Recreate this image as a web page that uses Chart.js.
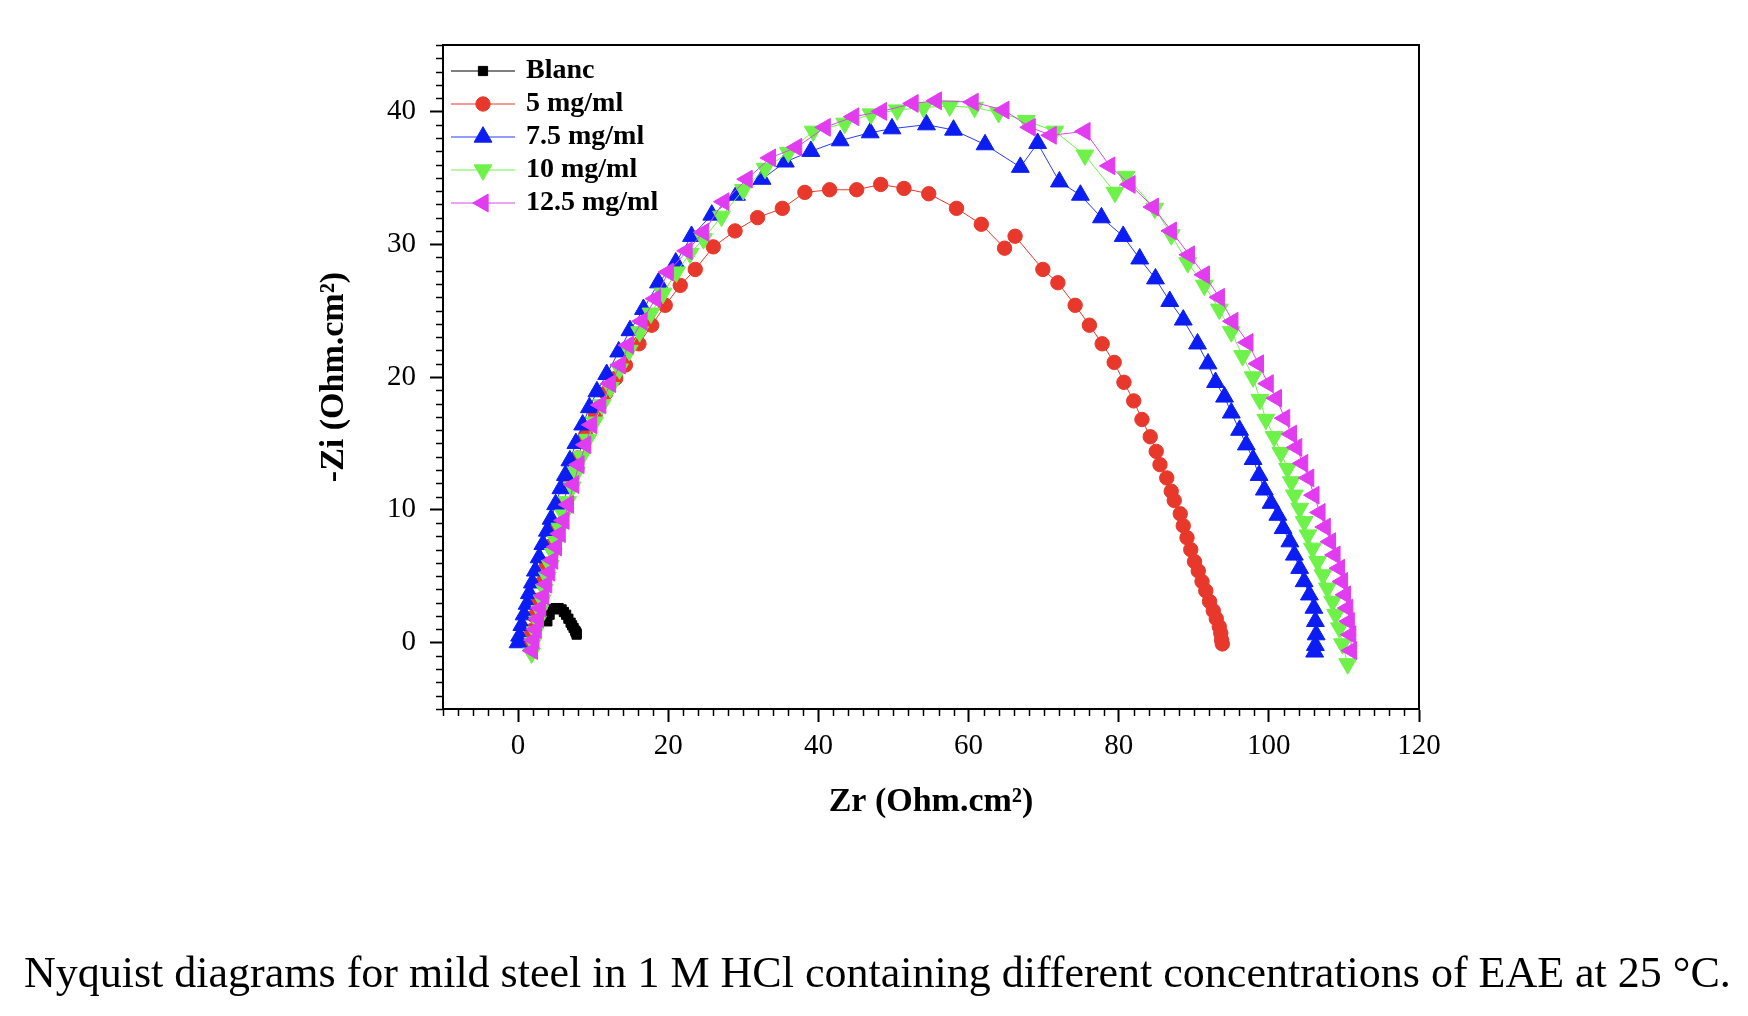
<!DOCTYPE html>
<html>
<head>
<meta charset="utf-8">
<script src="https://cdn.jsdelivr.net/npm/chart.js@4.4.1/dist/chart.umd.min.js"></script>
<style>
  html, body { margin: 0; padding: 0; background: #fff; }
  #wrap { position: relative; width: 1748px; height: 1016px; }
  #caption {
    position: absolute; left: 24px; top: 947px;
    font: 44px 'Liberation Serif', 'Times New Roman', serif;
    white-space: nowrap; color: #000;
  }
</style>
</head>
<body>
<div id="wrap">
  <canvas id="nyquist" width="1748" height="1016"></canvas>
  <div id="caption">Nyquist diagrams for mild steel in 1 M HCl containing different concentrations of EAE at 25 °C.</div>
</div>
<script>
const seriesLabels = ['Blanc', '5 mg/ml', '7.5 mg/ml', '10 mg/ml', '12.5 mg/ml'];
const xTicks = [0, 20, 40, 60, 80, 100, 120];
const yTicks = [0, 10, 20, 30, 40];

// [Zr, -Zi] pairs
const blanc = [[3.9,1.6],[4.2,2.1],[4.6,2.5],[5.0,2.6],[5.4,2.6],[5.8,2.5],[6.1,2.3],[6.4,2.1],[6.7,1.8],
  [7.0,1.5],[7.2,1.3],[7.4,1.1],[7.6,0.9],[7.7,0.8],[7.8,0.7],[7.8,0.6]];

const c5 = [[1.5,0.0],[1.8,0.9],[2.2,2.0],[2.7,3.2],[3.2,4.5],[3.8,5.9],[4.4,7.3],[5.1,8.8],[5.9,10.4],
  [6.9,12.1],[7.9,13.9],[9.0,15.6],[10.3,17.2],[11.7,18.8],[13.0,19.9],[14.3,20.9],[16.1,22.5],[17.8,23.9],
  [19.6,25.4],[21.6,26.9],[23.6,28.1],[26.0,29.8],[28.9,31.0],[31.9,32.0],[35.2,32.7],[38.2,33.9],[41.5,34.1],
  [45.1,34.1],[48.3,34.5],[51.4,34.2],[54.7,33.8],[58.4,32.7],[61.7,31.5],[64.8,29.7],[66.2,30.6],[69.9,28.1],
  [71.9,27.1],[74.2,25.4],[76.1,23.9],[77.8,22.5],[79.4,21.1],[80.7,19.6],[82.0,18.2],[83.1,16.8],[84.2,15.5],
  [85.0,14.4],[85.5,13.4],[86.4,12.4],[87.0,11.4],[87.4,10.7],[88.2,9.7],[88.6,8.8],[89.1,7.9],[89.6,7.0],
  [90.1,6.1],[90.6,5.4],[91.1,4.6],[91.6,3.9],[92.1,3.1],[92.6,2.4],[93.0,1.8],[93.4,1.2],[93.6,0.7],
  [93.7,0.2],[93.8,-0.1]];

const c75 = [[0.0,0.0],[0.2,0.5],[0.5,1.3],[0.8,2.1],[1.2,2.9],[1.5,3.7],[1.9,4.5],[2.3,5.4],[2.8,6.4],
  [3.3,7.4],[3.9,8.4],[4.4,9.3],[5.0,10.4],[5.7,11.6],[6.3,12.6],[6.9,13.7],[7.7,15.0],[8.6,16.4],[9.5,17.7],
  [10.5,18.9],[11.8,20.2],[13.4,21.9],[14.9,23.5],[16.7,25.1],[18.7,27.1],[21.0,28.6],[23.1,30.6],[25.8,32.2],
  [29.1,33.7],[32.5,34.9],[35.6,36.2],[39.0,37.0],[42.9,37.8],[46.9,38.4],[49.8,38.7],[54.4,39.0],[58.0,38.6],
  [62.2,37.5],[66.9,35.8],[69.2,37.6],[72.1,34.7],[74.9,33.7],[77.7,32.0],[80.6,30.6],[82.8,28.9],[84.9,27.4],
  [86.8,25.7],[88.6,24.3],[90.5,22.5],[91.9,21.0],[92.9,19.6],[94.1,18.5],[95.0,17.3],[96.1,16.0],[97.0,14.9],
  [97.9,13.8],[98.7,12.6],[99.4,11.5],[100.3,10.5],[101.2,9.6],[101.9,8.6],[102.8,7.6],[103.4,6.6],[104.1,5.6],
  [104.7,4.6],[105.4,3.6],[106.0,2.6],[106.2,1.6],[106.3,0.6],[106.2,-0.2],[106.1,-0.7]];

const c10 = [[1.8,-0.8],[2.0,0.0],[2.3,0.8],[2.6,1.6],[2.9,2.4],[3.2,3.2],[3.5,4.0],[3.9,4.9],[4.3,5.8],
  [4.7,6.7],[5.1,7.6],[5.6,8.6],[6.1,9.6],[6.6,10.6],[7.2,11.7],[7.8,12.8],[8.5,14.0],[9.3,15.3],[10.2,16.6],
  [11.2,17.9],[12.3,19.2],[13.5,20.6],[14.8,22.0],[16.2,23.4],[17.7,24.8],[19.3,26.3],[21.1,27.9],[22.9,29.3],
  [24.7,30.4],[27.1,32.1],[30.0,34.1],[32.9,35.7],[36.0,36.9],[39.3,38.5],[43.5,39.1],[47.0,39.8],[50.5,40.1],
  [54.0,40.3],[57.5,40.4],[60.8,40.3],[64.0,39.9],[67.7,39.3],[71.5,38.5],[75.5,36.7],[79.5,33.9],[81.0,35.1],
  [84.8,32.7],[87.0,30.7],[89.2,28.6],[91.4,26.9],[93.4,25.1],[95.0,23.4],[96.5,21.6],[97.9,20.0],[98.8,18.3],
  [99.6,16.8],[100.7,15.5],[101.6,14.3],[102.5,13.1],[103.0,12.1],[103.4,11.1],[104.1,10.1],[104.7,9.1],
  [105.2,8.1],[105.8,7.1],[106.5,6.1],[107.2,5.1],[107.8,4.1],[108.5,3.1],[108.9,2.1],[109.4,1.1],[109.8,-0.1],
  [110.5,-1.6]];

const c125 = [[1.9,-0.6],[2.1,0.2],[2.4,1.0],[2.7,1.8],[3.0,2.6],[3.4,3.5],[3.8,4.4],[4.2,5.3],[4.6,6.2],
  [5.1,7.2],[5.6,8.2],[6.1,9.2],[6.7,10.4],[7.4,11.9],[8.1,13.4],[9.0,14.9],[9.8,16.4],[11.0,17.9],[12.3,19.5],
  [13.6,20.9],[14.7,22.4],[16.5,24.2],[18.3,25.9],[20.0,27.9],[22.5,29.5],[24.7,30.9],[27.4,33.2],[30.5,34.9],
  [33.6,36.5],[37.1,37.3],[40.9,38.8],[44.7,39.6],[48.4,40.0],[52.6,40.6],[55.7,40.8],[60.6,40.7],[64.7,40.1],
  [68.2,38.8],[71.0,38.2],[75.5,38.5],[78.8,35.9],[81.5,34.5],[84.6,32.8],[87.0,31.0],[89.4,29.2],[91.4,27.7],
  [93.4,26.0],[95.2,24.2],[97.2,22.6],[98.6,21.0],[99.9,19.5],[101.0,18.4],[102.1,16.9],[103.0,15.7],
  [103.7,14.7],[104.5,13.5],[105.3,12.4],[106.0,11.1],[106.8,9.8],[107.5,8.7],[108.2,7.6],[108.8,6.6],
  [109.4,5.6],[109.8,4.6],[110.2,3.6],[110.5,2.6],[110.7,1.6],[110.9,0.6],[111.0,-0.6]];

const seriesData = [blanc, c5, c75, c10, c125];

const serif = "'Liberation Serif', 'Times New Roman', serif";

const looks = [
  { fill: '#000000', line: '#000000', shape: 'rect', rotation: 0, radius: 6.5 },
  { fill: '#e8382c', line: '#e8382c', shape: 'circle', rotation: 0, radius: 7.2 },
  { fill: '#0b1df2', line: '#2a3cf2', shape: 'triangle', rotation: 0, radius: 10.3 },
  { fill: '#6ef24a', line: '#6ef24a', shape: 'triangle', rotation: 180, radius: 10.3 },
  { fill: '#e23cf0', line: '#d84ae8', shape: 'triangle', rotation: 270, radius: 10.3 },
];

// little "line + marker" picture for each legend row
const makeIcon = (look) => {
  const c = document.createElement('canvas');
  c.width = 64;
  c.height = 26;
  const g = c.getContext('2d');
  g.strokeStyle = look.line;
  g.lineWidth = 1.2;
  g.beginPath();
  g.moveTo(0, 13);
  g.lineTo(64, 13);
  g.stroke();
  g.fillStyle = look.fill;
  g.strokeStyle = look.fill;
  g.lineWidth = 1;
  Chart.helpers.drawPoint(g, {
    pointStyle: look.shape, rotation: look.rotation, radius: look.radius, borderWidth: 1,
  }, 32, 13);
  return c;
};

// keep the vertical legend in the top-left corner of the plot box
const legendInside = {
  id: 'legendInside',
  afterLayout(chart) {
    const lg = chart.legend;
    const a = chart.chartArea;
    lg.left = a.left + 6;
    lg.top = a.top + 7;
    lg.right = lg.left + lg.width;
    lg.bottom = a.bottom;
  },
};

const frameAndMinorTicks = {
  id: 'frameAndMinorTicks',
  afterDraw(chart) {
    const { ctx, chartArea: a, scales: { x, y } } = chart;
    ctx.save();
    ctx.strokeStyle = '#000';
    ctx.lineWidth = 2;
    ctx.strokeRect(a.left, a.top, a.right - a.left, a.bottom - a.top);
    ctx.lineWidth = 1.5;
    ctx.beginPath();
    for (let v = x.min; v <= x.max; v += 2) {
      if (v % 20 === 0) continue;
      const px = Math.round(x.getPixelForValue(v)) + 0.5;
      ctx.moveTo(px, a.bottom);
      ctx.lineTo(px, a.bottom + 7);
    }
    for (let v = y.min; v <= y.max; v += 1) {
      if (v % 10 === 0) continue;
      const py = Math.round(y.getPixelForValue(v)) + 0.5;
      ctx.moveTo(a.left, py);
      ctx.lineTo(a.left - 7, py);
    }
    ctx.stroke();
    ctx.restore();
  },
};

const datasets = seriesData.map((pts, i) => ({
  label: seriesLabels[i],
  data: pts.map(([x, y]) => ({ x, y })),
  showLine: true,
  borderColor: looks[i].line,
  borderWidth: 1,
  backgroundColor: looks[i].fill,
  pointBackgroundColor: looks[i].fill,
  pointBorderColor: looks[i].fill,
  pointBorderWidth: 1,
  pointStyle: looks[i].shape,
  rotation: looks[i].rotation,
  pointRadius: looks[i].radius,
  tension: 0,
  order: seriesData.length - 1 - i,
}));

new Chart(document.getElementById('nyquist'), {
  type: 'scatter',
  data: { datasets },
  plugins: [legendInside, frameAndMinorTicks],
  options: {
    responsive: false,
    animation: false,
    layout: { padding: { left: 300, right: 329, top: 45, bottom: 187 } },
    scales: {
      x: {
        type: 'linear',
        min: -10,
        max: 120,
        afterBuildTicks: (s) => { s.ticks = xTicks.map((v) => ({ value: v })); },
        afterFit: (s) => { s.height = 120; },
        grid: { drawOnChartArea: false, tickLength: 13, tickWidth: 2, tickColor: '#000' },
        border: { display: true, color: '#000', width: 2 },
        ticks: { color: '#000', font: { family: serif, size: 29 }, padding: 7, maxRotation: 0, autoSkip: false },
        title: {
          display: true,
          text: 'Zr (Ohm.cm²)',
          color: '#000',
          font: { family: serif, size: 34, weight: 'bold' },
          padding: { top: 0, bottom: 6 },
        },
      },
      y: {
        type: 'linear',
        min: -5,
        max: 45,
        afterBuildTicks: (s) => { s.ticks = yTicks.map((v) => ({ value: v })); },
        afterFit: (s) => { s.width = 143; },
        grid: { drawOnChartArea: false, tickLength: 13, tickWidth: 2, tickColor: '#000' },
        border: { display: true, color: '#000', width: 2 },
        ticks: { color: '#000', font: { family: serif, size: 29 }, padding: 14, autoSkip: false },
        title: {
          display: true,
          text: '-Zi (Ohm.cm²)',
          color: '#000',
          font: { family: serif, size: 34, weight: 'bold' },
          padding: { top: 14, bottom: 0 },
        },
      },
    },
    plugins: {
      tooltip: { enabled: false },
      legend: {
        position: 'chartArea',
        align: 'start',
        labels: {
          usePointStyle: true,
          pointStyleWidth: 58,
          padding: 5,
          color: '#000',
          font: { family: serif, size: 28, weight: 'bold' },
          generateLabels: (chart) => chart.data.datasets.map((ds, i) => ({
            text: ds.label,
            pointStyle: makeIcon(looks[i]),
            fillStyle: looks[i].fill,
            strokeStyle: looks[i].fill,
            lineWidth: 0,
            hidden: false,
            datasetIndex: i,
            fontColor: '#000',
          })),
        },
      },
    },
  },
});
</script>
</body>
</html>
